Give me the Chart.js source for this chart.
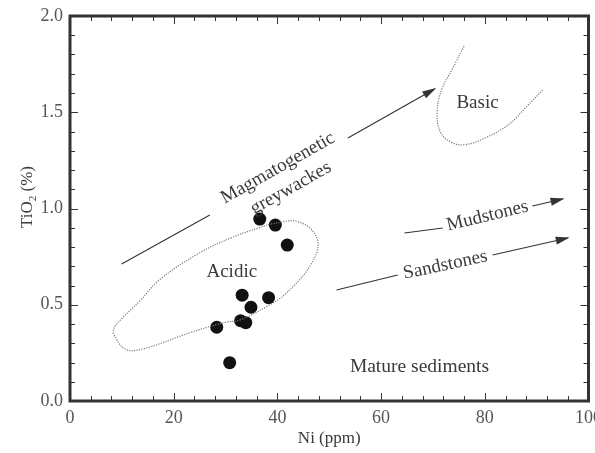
<!DOCTYPE html>
<html>
<head>
<meta charset="utf-8">
<script src="https://cdn.jsdelivr.net/npm/chart.js@4.4.1/dist/chart.umd.min.js"></script>
<style>
  body { margin: 0; background: #fff; }
  #wrap { width: 595px; height: 453px; }
</style>
</head>
<body>
<div id="wrap"><canvas id="niChart" width="595" height="453"></canvas></div>
<script>
// samples
const niValues   = [36.6, 39.6, 41.9, 33.2, 38.3, 34.9, 32.9, 33.9, 28.3, 30.8];
const tio2Values = [0.945, 0.914, 0.81, 0.55, 0.537, 0.487, 0.417, 0.407, 0.383, 0.199];

// field boundaries
const acidicNi   = [8.3, 8.7, 13.5, 17.3, 25.0, 31.3, 36.5, 39.0, 44.2, 47.7, 46.7, 41.7, 37.9, 32.7, 30.2, 23.7, 14.0, 10.6, 8.3];
const acidicTiO2 = [0.35, 0.39, 0.52, 0.63, 0.77, 0.85, 0.90, 0.92, 0.93, 0.84, 0.72, 0.56, 0.49, 0.42, 0.41, 0.36, 0.27, 0.27, 0.35];
const basicNi    = [76.0, 73.7, 71.7, 70.8, 71.5, 73.7, 76.3, 80.2, 84.6, 87.9, 91.3];
const basicTiO2  = [1.843, 1.723, 1.619, 1.499, 1.394, 1.342, 1.332, 1.368, 1.436, 1.525, 1.619];

// trend arrows (tail segment, then head segment)
const magmaTail = [[9.96, 0.712], [26.97, 0.966]];
const magmaHead = [[53.6, 1.366], [70.3, 1.621]];
const mudTail   = [[64.5, 0.873], [71.9, 0.899]];
const mudHead   = [[89.2, 1.013], [95.0, 1.049]];
const sandTail  = [[51.4, 0.577], [63.2, 0.655]];
const sandHead  = [[81.5, 0.758], [96.0, 0.847]];

const xTicks = [0, 20, 40, 60, 80, 100];
const yTicks = [0.0, 0.5, 1.0, 1.5, 2.0];

const notes = [
  { text: 'Magmatogenetic', x: 40.1, y: 1.21, angle: -29.5, size: 19 },
  { text: 'greywackes', x: 42.6, y: 1.106, angle: -29.5, size: 19 },
  { text: 'Basic', x: 78.6, y: 1.548, angle: 0, size: 19 },
  { text: 'Acidic', x: 31.2, y: 0.67, angle: 0, size: 19 },
  { text: 'Mature sediments', x: 67.4, y: 0.177, angle: 0, size: 19.5 },
  { text: 'Mudstones', x: 80.5, y: 0.961, angle: -13.5, size: 19 },
  { text: 'Sandstones', x: 72.4, y: 0.706, angle: -12, size: 19 }
];

const SERIF = '"Liberation Serif", "DejaVu Serif", serif';
const INK = '#333';

const toXY = pts => pts.map(p => ({ x: p[0], y: p[1] }));
const zip = (xs, ys) => xs.map((x, i) => ({ x: x, y: ys[i] }));

function fieldSet(data) {
  return {
    data: data, showLine: true, pointRadius: 0, tension: 0.4,
    borderColor: '#7a7a7a', borderWidth: 1.2, borderDash: [1.2, 1.3], fill: false
  };
}
function arrowSet(pts, head) {
  return {
    data: toXY(pts), showLine: true, pointRadius: 0, tension: 0,
    borderColor: INK, borderWidth: 1.1, fill: false, arrowHead: head
  };
}

const overlay = {
  id: 'overlay',
  afterDatasetsDraw(chart) {
    const ctx = chart.ctx;
    const xs = chart.scales.x, ys = chart.scales.y;
    const a = chart.chartArea;

    // arrow heads
    chart.data.datasets.forEach((ds, i) => {
      if (!ds.arrowHead) return;
      const pts = chart.getDatasetMeta(i).data;
      const p0 = pts[pts.length - 2], p1 = pts[pts.length - 1];
      const ang = Math.atan2(p1.y - p0.y, p1.x - p0.x);
      ctx.save();
      ctx.translate(p1.x, p1.y);
      ctx.rotate(ang);
      ctx.fillStyle = INK;
      ctx.beginPath();
      ctx.moveTo(2, 0);
      ctx.lineTo(-12, -4);
      ctx.lineTo(-12, 4);
      ctx.closePath();
      ctx.fill();
      ctx.restore();
    });

    // annotations
    notes.forEach(n => {
      ctx.save();
      ctx.translate(xs.getPixelForValue(n.x), ys.getPixelForValue(n.y));
      ctx.rotate(n.angle * Math.PI / 180);
      ctx.font = n.size + 'px ' + SERIF;
      ctx.fillStyle = '#3a3a3a';
      ctx.textAlign = 'center';
      ctx.textBaseline = 'middle';
      ctx.fillText(n.text, 0, 0);
      ctx.restore();
    });

    // frame with inward ticks
    ctx.save();
    ctx.strokeStyle = INK;
    ctx.lineWidth = 1;
    ctx.beginPath();
    for (let v = 0; v <= 100.001; v += 4) {
      const px = Math.round(xs.getPixelForValue(v)) + 0.5;
      const len = (Math.round(v) % 20 === 0) ? 8 : 5;
      ctx.moveTo(px, a.bottom); ctx.lineTo(px, a.bottom - len);
      ctx.moveTo(px, a.top); ctx.lineTo(px, a.top + len);
    }
    for (let k = 0; k <= 20; k++) {
      const py = Math.round(ys.getPixelForValue(k / 10)) + 0.5;
      const len = (k % 5 === 0) ? 8 : 5;
      ctx.moveTo(a.left, py); ctx.lineTo(a.left + len, py);
      ctx.moveTo(a.right, py); ctx.lineTo(a.right - len, py);
    }
    ctx.stroke();
    ctx.lineWidth = 3;
    ctx.strokeRect(a.left, a.top, a.right - a.left, a.bottom - a.top);
    ctx.restore();

    // y axis title with subscript
    ctx.save();
    ctx.translate(26, 197);
    ctx.rotate(-Math.PI / 2);
    ctx.fillStyle = '#3a3a3a';
    ctx.textBaseline = 'alphabetic';
    ctx.font = '17px ' + SERIF;
    const w1 = ctx.measureText('TiO').width;
    ctx.font = '11px ' + SERIF;
    const w2 = ctx.measureText('2').width;
    ctx.font = '17px ' + SERIF;
    const w3 = ctx.measureText(' (%)').width;
    let x0 = -(w1 + w2 + w3) / 2;
    ctx.fillText('TiO', x0, 6);
    ctx.font = '11px ' + SERIF;
    ctx.fillText('2', x0 + w1, 10);
    ctx.font = '17px ' + SERIF;
    ctx.fillText(' (%)', x0 + w1 + w2, 6);
    ctx.restore();
  }
};

new Chart(document.getElementById('niChart'), {
  type: 'scatter',
  data: {
    datasets: [
      fieldSet(zip(acidicNi, acidicTiO2)),
      fieldSet(zip(basicNi, basicTiO2)),
      arrowSet(magmaTail, false),
      arrowSet(magmaHead, true),
      arrowSet(mudTail, false),
      arrowSet(mudHead, true),
      arrowSet(sandTail, false),
      arrowSet(sandHead, true),
      {
        data: zip(niValues, tio2Values),
        pointRadius: 6.5, pointBackgroundColor: '#111', pointBorderWidth: 0
      }
    ]
  },
  options: {
    responsive: false,
    animation: false,
    layout: { padding: { top: 16, right: 6, left: 0, bottom: 0 } },
    plugins: { legend: { display: false }, tooltip: { enabled: false } },
    scales: {
      x: {
        type: 'linear', min: 0, max: 100,
        afterBuildTicks: s => { s.ticks = xTicks.map(v => ({ value: v })); },
        afterFit: s => { s.height = 52; s.paddingLeft = 0; s.paddingRight = 0; },
        grid: { display: false, drawTicks: false },
        border: { display: false },
        ticks: { color: '#555', padding: 6, maxRotation: 0, autoSkip: false, font: { family: SERIF, size: 18 } },
        title: { display: true, text: 'Ni (ppm)', color: '#3a3a3a', padding: { top: 4 }, font: { family: SERIF, size: 17 } }
      },
      y: {
        type: 'linear', min: 0, max: 2,
        afterBuildTicks: s => { s.ticks = yTicks.map(v => ({ value: v })); },
        afterFit: s => { s.width = 70; s.paddingTop = 0; s.paddingBottom = 0; },
        grid: { display: false, drawTicks: false },
        border: { display: false },
        ticks: { color: '#555', padding: 7, autoSkip: false, font: { family: SERIF, size: 18 },
                 callback: v => v.toFixed(1) }
      }
    }
  },
  plugins: [overlay]
});
</script>
</body>
</html>
